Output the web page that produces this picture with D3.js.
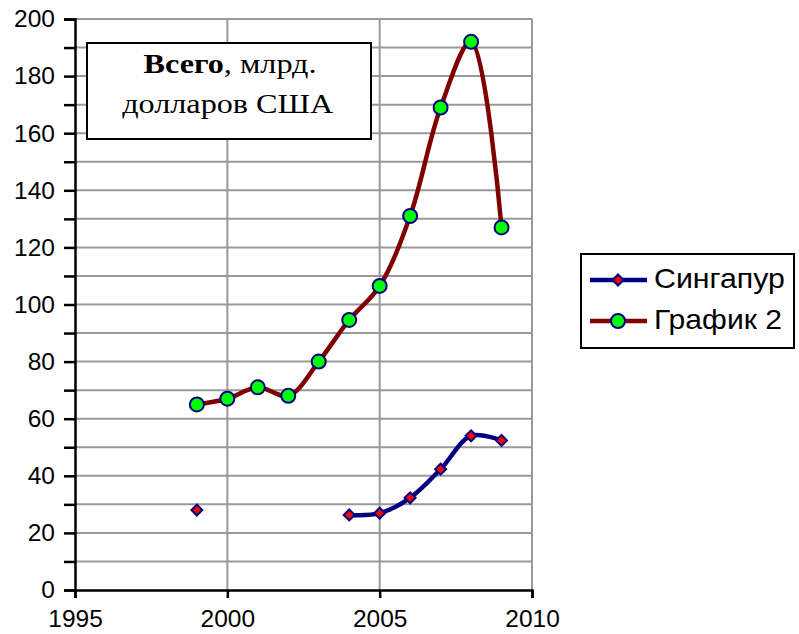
<!DOCTYPE html>
<html>
<head>
<meta charset="utf-8">
<script src="https://cdn.jsdelivr.net/npm/d3@7"></script>
<style>
  body { margin: 0; background: #fff; }
  svg { display: block; }
</style>
</head>
<body>
<div id="chart"></div>
<script>
// data
const years = [1999, 2000, 2001, 2002, 2003, 2004, 2005, 2006, 2007, 2008, 2009];
const singapore = [28, null, null, null, null, 26.3, 26.9, 32.3, 42.3, 54, 52.4];
const graph2 = [65, 67, 71, 68, 80, 94.6, 106.5, 131, 169, 192, 127];
const xTicks = [1995, 2000, 2005, 2010];
const yTicks = [0, 20, 40, 60, 80, 100, 120, 140, 160, 180, 200];
const legendNames = ["Сингапур", "График 2"];

const W = 799, H = 634;
const margin = {top: 19, right: 267, bottom: 44, left: 75};

const svg = d3.select("#chart").append("svg")
  .attr("width", W)
  .attr("height", H);

const x = d3.scaleLinear().domain([1995, 2010]).range([margin.left, W - margin.right]);
const y = d3.scaleLinear().domain([0, 200]).range([H - margin.bottom, margin.top]);

// gridlines
const grid = svg.append("g").attr("stroke", "#999").attr("stroke-width", 2);
grid.selectAll(".hg")
  .data(d3.range(10, 201, 10))
  .enter().append("line")
  .attr("x1", x(1995)).attr("x2", x(2010))
  .attr("y1", d => y(d)).attr("y2", d => y(d));
grid.selectAll(".vg")
  .data([2000, 2005, 2010])
  .enter().append("line")
  .attr("x1", d => x(d)).attr("x2", d => x(d))
  .attr("y1", y(0)).attr("y2", y(200));

// axes
const yAxis = d3.axisLeft(y).tickValues(d3.range(0, 201, 10)).tickSize(11)
  .tickFormat(d => yTicks.includes(d) ? d : "");
const gy = svg.append("g").attr("transform", `translate(${x(1995)},0)`).call(yAxis);

const xAxis = d3.axisBottom(x).tickValues(xTicks).tickSize(8).tickFormat(d3.format("d"));
const gx = svg.append("g").attr("transform", `translate(0,${y(0)})`).call(xAxis);

[gy, gx].forEach(g => {
  g.select(".domain").attr("stroke", "#000").attr("stroke-width", 2.5);
  g.selectAll(".tick line").attr("stroke", "#000").attr("stroke-width", 2.5);
  g.selectAll(".tick text")
    .attr("font-family", "Liberation Sans, Arial, sans-serif")
    .attr("font-size", 24.5)
    .attr("fill", "#000");
});
gy.selectAll(".tick text").attr("x", -20);
gx.selectAll(".tick text").attr("y", 20);

// lines
const pts = vals => years.map((yr, i) => ({yr, v: vals[i]}));
const line = d3.line()
  .defined(d => d.v != null)
  .x(d => x(d.yr))
  .y(d => y(d.v))
  .curve(d3.curveCatmullRom.alpha(0.5));

svg.append("path")
  .datum(pts(graph2))
  .attr("fill", "none")
  .attr("stroke", "#800000")
  .attr("stroke-width", 4.5)
  .attr("d", line);

svg.append("path")
  .datum(pts(singapore))
  .attr("fill", "none")
  .attr("stroke", "#000080")
  .attr("stroke-width", 4.5)
  .attr("d", line);

// markers
const diamond = d3.symbol().type(d3.symbolSquare).size(60);

svg.selectAll(".sg")
  .data(pts(singapore).filter(d => d.v != null))
  .enter().append("path")
  .attr("d", diamond)
  .attr("transform", d => `translate(${x(d.yr)},${y(d.v)}) rotate(45)`)
  .attr("fill", "#ff0000")
  .attr("stroke", "#000080")
  .attr("stroke-width", 2);

svg.selectAll(".g2")
  .data(pts(graph2))
  .enter().append("circle")
  .attr("cx", d => x(d.yr))
  .attr("cy", d => y(d.v))
  .attr("r", 7)
  .attr("fill", "#00ff00")
  .attr("stroke", "#000080")
  .attr("stroke-width", 2);

// title box
svg.append("rect")
  .attr("x", 87).attr("y", 43)
  .attr("width", 284).attr("height", 96)
  .attr("fill", "#fff")
  .attr("stroke", "#000")
  .attr("stroke-width", 2);

// text is a bit wider than plain Times, so stretch it horizontally
const title = svg.append("text")
  .attr("text-anchor", "middle")
  .attr("transform", "translate(230,0) scale(1.15,1)")
  .attr("font-family", "Liberation Serif, Times New Roman, serif")
  .attr("font-size", 28)
  .attr("fill", "#000");
const t1 = title.append("tspan").attr("x", 0).attr("y", 73);
t1.append("tspan").attr("font-weight", "bold").text("Всего");
t1.append("tspan").text(", млрд.");
title.append("tspan").attr("x", -2).attr("y", 113).text("долларов США");

// legend
const legend = svg.append("g");
legend.append("rect")
  .attr("x", 581).attr("y", 254)
  .attr("width", 213).attr("height", 94)
  .attr("fill", "#fff")
  .attr("stroke", "#000")
  .attr("stroke-width", 2);

const items = legend.selectAll(".item")
  .data(legendNames)
  .enter().append("g")
  .attr("transform", (d, i) => `translate(590,${280 + i * 41})`);

items.append("line")
  .attr("x1", 0).attr("x2", 57)
  .attr("stroke", (d, i) => i === 0 ? "#000080" : "#800000")
  .attr("stroke-width", 4.5);

items.filter((d, i) => i === 0).append("path")
  .attr("d", diamond)
  .attr("transform", "translate(28,0) rotate(45)")
  .attr("fill", "#ff0000")
  .attr("stroke", "#000080")
  .attr("stroke-width", 2);

items.filter((d, i) => i === 1).append("circle")
  .attr("cx", 28).attr("r", 7)
  .attr("fill", "#00ff00")
  .attr("stroke", "#000080")
  .attr("stroke-width", 2);

items.append("text")
  .attr("x", 64)
  .attr("y", 8)
  .attr("textLength", d => d === "Сингапур" ? 131 : 128)
  .attr("lengthAdjust", "spacingAndGlyphs")
  .attr("font-family", "Liberation Sans, Arial, sans-serif")
  .attr("font-size", 28)
  .attr("fill", "#000")
  .text(d => d);
</script>
</body>
</html>
